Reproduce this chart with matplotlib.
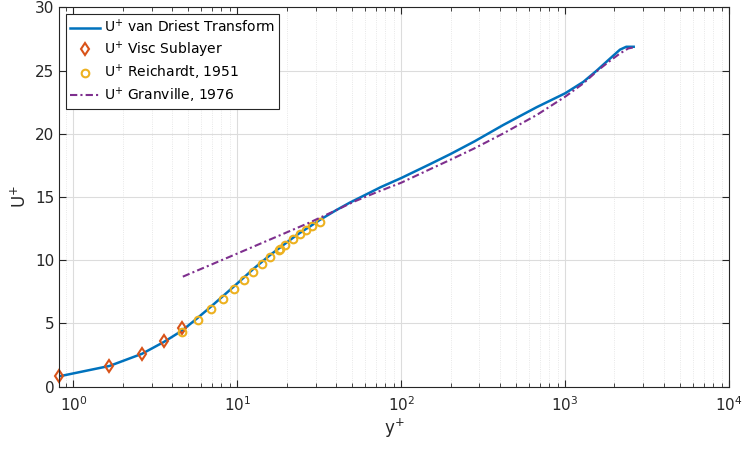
import numpy as np
import matplotlib.pyplot as plt
from matplotlib.ticker import LogLocator, NullFormatter, MultipleLocator

# van Driest transformed velocity profile
yp_vd = [0.82, 1.66, 2.62, 3.58, 4.62, 5.74, 6.89, 8.2, 9.58, 11.0, 12.5, 14.2,
         16, 18, 20, 22, 24, 27.6, 31.8, 40, 48.5, 60, 75, 100, 150, 200, 280,
         420, 670, 1000, 1290, 1560, 1880, 2160, 2360, 2620]
up_vd = [0.82, 1.64, 2.6, 3.55, 4.45, 5.45, 6.32, 7.18, 7.95, 8.65, 9.3, 9.9,
         10.45, 10.95, 11.4, 11.8, 12.15, 12.65, 13.18, 13.95, 14.55, 15.15, 15.78,
         16.5, 17.6, 18.4, 19.4, 20.7, 22.1, 23.2, 24.1, 25.0, 25.95, 26.65,
         26.88, 26.88]

# viscous sublayer, U+ = y+
yp_visc = [0.82, 1.66, 2.62, 3.58, 4.62]
up_visc = [0.82, 1.66, 2.62, 3.58, 4.62]

# Reichardt (1951)
yp_reich = [4.61, 5.74, 6.89, 8.20, 9.58, 11.0, 12.5, 14.2, 15.9, 17.9, 18.2,
            19.6, 21.8, 24.0, 26.2, 28.7, 31.8]
up_reich = [4.35, 5.27, 6.12, 6.93, 7.70, 8.41, 9.09, 9.70, 10.25, 10.78, 10.86,
            11.23, 11.68, 12.07, 12.39, 12.70, 13.02]

# Granville (1976)
yp_gran = [4.65, 10, 20, 27.6, 40, 50.8, 70, 100, 150, 200, 280, 420, 670, 1000,
           1290, 1590, 1880, 2160, 2430, 2620]
up_gran = [8.7, 10.53, 12.2, 12.98, 13.95, 14.6, 15.35, 16.13, 17.2, 17.95, 18.85,
           20.03, 21.48, 22.93, 23.98, 25.03, 25.77, 26.35, 26.75, 26.83]

fig = plt.figure(figsize=(7.43, 4.49), dpi=100)
ax = fig.add_axes([0.0798, 0.1388, 0.9014, 0.8449])

ax.plot(yp_vd, up_vd, color='#0072BD', lw=1.8, label='U$^{+}$ van Driest Transform')
ax.plot(yp_visc, up_visc, 'd', mfc='none', mec='#D95319', mew=1.5, ms=6,
        clip_on=False, label='U$^{+}$ Visc Sublayer')
ax.plot(yp_reich, up_reich, 'o', mfc='none', mec='#EDB120', mew=1.5, ms=5.5,
        label='U$^{+}$ Reichardt, 1951')
ax.plot(yp_gran, up_gran, color='#7E2F8E', lw=1.5, dashes=(3.5, 1.5, 1, 1.5),
        label='U$^{+}$ Granville, 1976')

ax.set_xscale('log')
ax.set_xlim(0.82, 1e4)
ax.set_ylim(0, 30)
ax.yaxis.set_major_locator(MultipleLocator(5))
ax.xaxis.set_major_locator(LogLocator(base=10, numticks=10))
ax.xaxis.set_minor_locator(LogLocator(base=10, subs=np.arange(2, 10), numticks=50))
ax.xaxis.set_minor_formatter(NullFormatter())

ax.grid(True, which='major', color='#dcdcdc', lw=0.8)
ax.grid(True, which='minor', axis='x', color='#e0e0e0', lw=0.6, ls=':')
ax.set_axisbelow(True)

ax.tick_params(which='both', direction='in', top=True, right=True, colors='#262626',
               labelsize=11)
ax.tick_params(which='major', length=5)
ax.tick_params(which='minor', length=3)
ax.tick_params(axis='x', pad=6)
for s in ax.spines.values():
    s.set_color('#262626')
    s.set_linewidth(0.8)

ax.set_xlabel('y$^{+}$', fontsize=12, color='#262626', labelpad=2)
ax.set_ylabel('U$^{+}$', fontsize=12, color='#262626', labelpad=4)

leg = ax.legend(loc='upper left', fontsize=10, fancybox=False, framealpha=1,
                edgecolor='#262626', handlelength=2.1, handletextpad=0.3,
                borderpad=0.3, labelspacing=0.25, borderaxespad=0.5)
leg.get_frame().set_linewidth(0.8)

fig.savefig('out.png', dpi=100)
